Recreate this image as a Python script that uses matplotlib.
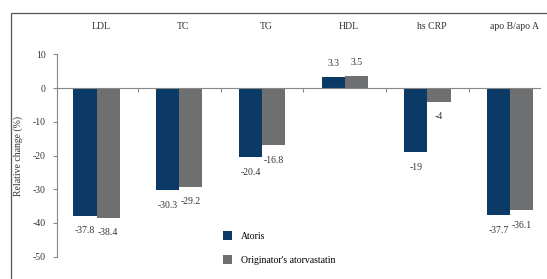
import matplotlib
matplotlib.use("Agg")
import matplotlib.pyplot as plt
from matplotlib.patches import Rectangle
import numpy as np

categories = ["LDL", "TC", "TG", "HDL", "hs CRP", "apo B/apo A"]
atoris = [-37.8, -30.3, -20.4, 3.3, -19, -37.7]
originator = [-38.4, -29.2, -16.8, 3.5, -4, -36.1]
atoris_labels = ["-37.8", "-30.3", "-20.4", "3.3", "-19", "-37.7"]
originator_labels = ["-38.4", "-29.2", "-16.8", "3.5", "-4", "-36.1"]
series_names = ["Atoris", "Originator's atorvastatin"]
yticks = [10, 0, -10, -20, -30, -40, -50]

plt.rcParams['font.family'] = ['Liberation Serif', 'DejaVu Serif']
navy = "#0b3a66"
gray = "#6d6f70"

fig = plt.figure(figsize=(5.47, 2.79), dpi=100)
ax = fig.add_axes([0.104, 0.068, 0.883, 0.749])

x = np.arange(len(categories))
w = 0.28
ax.bar(x - w/2, atoris, w, color=navy, label=series_names[0])
ax.bar(x + w/2, originator, w, color=gray, label=series_names[1])

fs = 7
for xi, v, lab in zip(x - w/2, atoris, atoris_labels):
    off = 10 if v > 0 else -11
    ax.annotate(lab, (xi, v), xytext=(0, off), textcoords="offset points",
                ha="center", va="center", fontsize=fs, color="#333333")
for xi, v, lab in zip(x + w/2, originator, originator_labels):
    off = 10 if v > 0 else -11
    ax.annotate(lab, (xi, v), xytext=(0, off), textcoords="offset points",
                ha="center", va="center", fontsize=fs, color="#333333")

ax.set_xlim(-0.48, 5.36)
ax.set_ylim(-51, 11)
ax.set_yticks(yticks)
ax.set_yticklabels([str(t) for t in yticks], fontsize=fs, color="#333333")
ax.set_ylabel("Relative change (%)", fontsize=fs, color="#333333", labelpad=7)

ax.spines['top'].set_visible(False)
ax.spines['right'].set_visible(False)
ax.spines['bottom'].set_position(('data', 0))
ax.spines['bottom'].set_color("#888888")
ax.spines['left'].set_color("#888888")
ax.spines['left'].set_bounds(-50, 10)
ax.tick_params(axis='y', direction='out', length=3, color="#888888", pad=5)
ax.set_xticks(x[:-1] + 0.5)
ax.set_xticklabels([])
ax.tick_params(axis='x', direction='out', length=3, color="#888888")

for xi, c in zip(x, categories):
    ax.text(xi + 0.05, 18.4, c, ha="center", va="center", fontsize=fs,
            color="#333333", clip_on=False)

ax.legend(loc="lower left", bbox_to_anchor=(0.325, -0.065), frameon=False,
          fontsize=fs, handlelength=1.0, handleheight=1.0,
          labelspacing=1.45, handletextpad=0.9)

fig.patches.append(Rectangle((11/547, -0.1), 1.0, 1 - 13/279 + 0.1,
                             transform=fig.transFigure, fill=False,
                             edgecolor="#555555", linewidth=0.9))

fig.savefig("out.png", dpi=100)
